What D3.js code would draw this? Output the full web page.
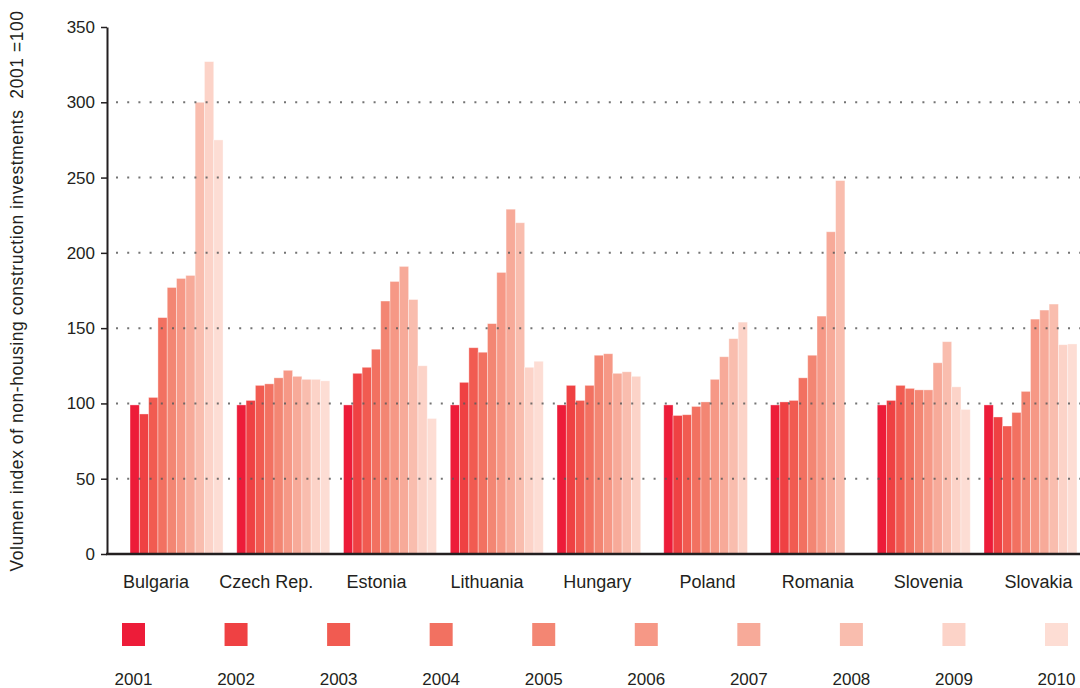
<!DOCTYPE html>
<html>
<head>
<meta charset="utf-8">
<script src="https://cdn.jsdelivr.net/npm/d3@7"></script>
<style>
  html, body { margin: 0; padding: 0; background: #ffffff; }
  svg { display: block; font-family: "Liberation Sans", Arial, Helvetica, sans-serif; }
</style>
</head>
<body>
<svg id="chart" width="1080" height="688"></svg>
<script>
// Non-housing construction investment volume index, 2001 = 100
const countries = ["Bulgaria", "Czech Rep.", "Estonia", "Lithuania", "Hungary",
                   "Poland", "Romania", "Slovenia", "Slovakia"];
const years = ["2001", "2002", "2003", "2004", "2005", "2006", "2007", "2008", "2009", "2010"];
const yearColors = ["#ED1C39", "#EF4143", "#F15B51", "#F27161", "#F38673",
                    "#F69886", "#F7AA99", "#F9BDAE", "#FCD3C8", "#FDDDD4"];
const yTicks = [0, 50, 100, 150, 200, 250, 300, 350];

// One array per country, values ordered by year (null = no data)
const bulgaria  = [99, 93, 104, 157, 177, 183, 185, 300, 327, 275];
const czechRep  = [99, 102, 112, 113, 117, 122, 118, 116, 116, 115];
const estonia   = [99, 120, 124, 136, 168, 181, 191, 169, 125, 90];
const lithuania = [99, 114, 137, 134, 153, 187, 229, 220, 124, 128];
const hungary   = [99, 112, 102, 112, 132, 133, 120, 121, 118, null];
const poland    = [99, 92, 92.5, 98, 101, 116, 131, 143, 154, null];
const romania   = [99, 101, 102, 117, 132, 158, 214, 248, null, null];
const slovenia  = [99, 102, 112, 110, 109, 109, 127, 141, 111, 96];
const slovakia  = [99, 91, 85, 94, 108, 156, 162, 166, 139, 139.5];

const seriesByCountry = [bulgaria, czechRep, estonia, lithuania, hungary,
                         poland, romania, slovenia, slovakia];

const yAxisTitle = "Volumen index of non-housing construction investments  2001 =100";

const textColor = "#231F20";
const svg = d3.select("#chart");

const plotLeft = 107, plotRight = 1080, plotTop = 27, plotBottom = 554;

const y = d3.scaleLinear().domain([0, 350]).range([plotBottom, plotTop]);

const x = d3.scaleBand()
  .domain(countries)
  .range([plotLeft, plotRight])
  .paddingInner(0.1288)
  .paddingOuter(0.1219)
  .align(0.885);

const xYear = d3.scaleBand().domain(years).range([0, x.bandwidth()]).padding(0);

// Category labels sit on their own evenly spaced positions
const xLabel = d3.scalePoint().domain(countries).range([156, 1038.5]);

const colorOf = d3.scaleOrdinal().domain(years).range(yearColors);

// Bars
const groups = svg.append("g").attr("class", "bars")
  .selectAll("g")
  .data(countries.map((c, i) => ({ country: c, values: seriesByCountry[i] })))
  .join("g")
  .attr("transform", d => `translate(${x(d.country)},0)`);

groups.selectAll("rect")
  .data(d => years.map((yr, j) => ({ year: yr, value: d.values[j] })).filter(v => v.value != null))
  .join("rect")
  .attr("x", d => xYear(d.year))
  .attr("width", xYear.bandwidth())
  .attr("y", d => y(d.value))
  .attr("height", d => y(0) - y(d.value))
  .attr("fill", d => colorOf(d.year))
  .attr("stroke", "rgba(255,255,255,0.45)")
  .attr("stroke-width", 0.8);

// Dotted gridlines drawn over the bars
svg.append("g").attr("class", "grid")
  .selectAll("line")
  .data(yTicks.filter(t => t > 0 && t < 350))
  .join("line")
  .attr("x1", 116)
  .attr("x2", plotRight)
  .attr("y1", d => y(d))
  .attr("y2", d => y(d))
  .attr("stroke", "#5a5a5a")
  .attr("stroke-opacity", 0.85)
  .attr("stroke-width", 2)
  .attr("stroke-dasharray", "2 9.2");

// Y axis
const yAxis = d3.axisLeft(y).tickValues(yTicks).tickSize(6).tickPadding(6).tickSizeOuter(0);
const gy = svg.append("g").attr("transform", `translate(${plotLeft},0)`).call(yAxis);
gy.select(".domain").attr("stroke", textColor).attr("stroke-width", 2);
gy.selectAll(".tick line").attr("stroke", textColor).attr("stroke-width", 1.5);
gy.selectAll(".tick text")
  .attr("fill", textColor)
  .attr("font-size", 17)
  .attr("font-family", "'Liberation Sans', Arial, sans-serif");

// X axis baseline
svg.append("line")
  .attr("x1", plotLeft - 1)
  .attr("x2", plotRight)
  .attr("y1", y(0))
  .attr("y2", y(0))
  .attr("stroke", textColor)
  .attr("stroke-width", 2.5);

// Category labels
svg.append("g").selectAll("text")
  .data(countries)
  .join("text")
  .attr("x", d => xLabel(d))
  .attr("y", 588)
  .attr("text-anchor", "middle")
  .attr("font-size", 18)
  .attr("fill", textColor)
  .text(d => d);

// Y axis title (keeps the double space before the base year)
svg.append("text")
  .attr("transform", `translate(23,291) rotate(-90)`)
  .attr("text-anchor", "middle")
  .attr("font-size", 17.5)
  .attr("letter-spacing", 0.55)
  .style("white-space", "pre")
  .attr("fill", textColor)
  .text(yAxisTitle);

// Legend
const legendX = d3.scalePoint().domain(years).range([133.5, 1056.5]);
const sw = 23;
const legend = svg.append("g").attr("class", "legend");
legend.selectAll("rect")
  .data(years)
  .join("rect")
  .attr("x", d => legendX(d) - sw / 2)
  .attr("y", 623)
  .attr("width", sw)
  .attr("height", sw)
  .attr("fill", d => colorOf(d));
legend.selectAll("text")
  .data(years)
  .join("text")
  .attr("x", d => legendX(d))
  .attr("y", 685)
  .attr("text-anchor", "middle")
  .attr("font-size", 17)
  .attr("fill", textColor)
  .text(d => d);
</script>
</body>
</html>
